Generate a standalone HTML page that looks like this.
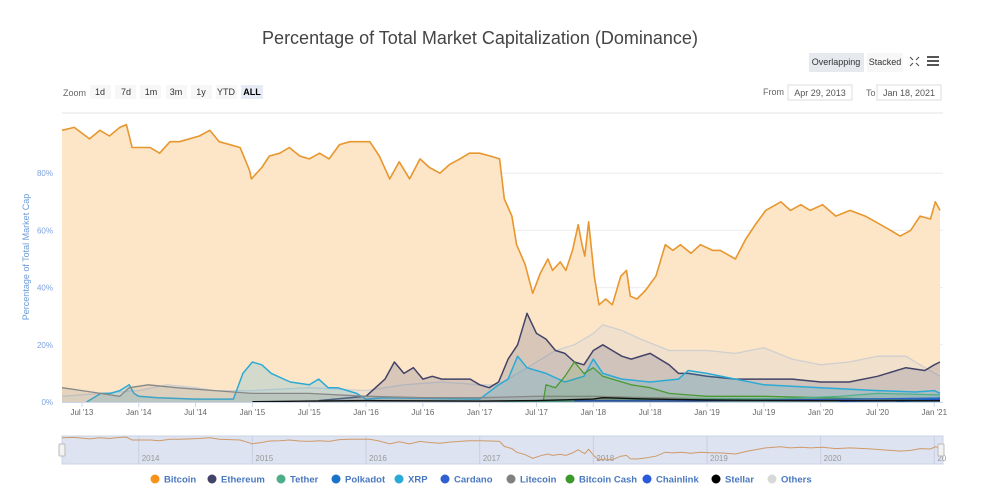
<!DOCTYPE html>
<html><head><meta charset="utf-8"><style>
body{margin:0;background:#fff;width:1000px;height:492px;overflow:hidden;font-family:"Liberation Sans",sans-serif}
svg text{font-family:"Liberation Sans",sans-serif}
</style></head><body>
<svg id="c" width="1000" height="492" viewBox="0 0 1000 492">
<text x="480" y="44" text-anchor="middle" font-size="18" fill="#444">Percentage of Total Market Capitalization (Dominance)</text>
<g>
<text x="63" y="96" font-size="9" fill="#666">Zoom</text>
<rect x="90" y="85" width="21" height="14" fill="#f7f7f7"/><text x="100" y="95" font-size="9" fill="#333" text-anchor="middle">1d</text>
<rect x="115" y="85" width="21" height="14" fill="#f7f7f7"/><text x="126" y="95" font-size="9" fill="#333" text-anchor="middle">7d</text>
<rect x="140" y="85" width="21" height="14" fill="#f7f7f7"/><text x="151" y="95" font-size="9" fill="#333" text-anchor="middle">1m</text>
<rect x="166" y="85" width="21" height="14" fill="#f7f7f7"/><text x="176" y="95" font-size="9" fill="#333" text-anchor="middle">3m</text>
<rect x="191" y="85" width="21" height="14" fill="#f7f7f7"/><text x="201" y="95" font-size="9" fill="#333" text-anchor="middle">1y</text>
<rect x="216" y="85" width="21" height="14" fill="#f7f7f7"/><text x="226" y="95" font-size="9" fill="#333" text-anchor="middle">YTD</text>
<rect x="241" y="85" width="22" height="14" fill="#e6ebf5"/><text x="252" y="95" font-size="9" fill="#000" font-weight="bold" text-anchor="middle">ALL</text>
</g>
<rect x="809" y="53" width="55" height="19" fill="#e6e9ee"/><text x="836" y="65" font-size="9" fill="#333" text-anchor="middle">Overlapping</text>
<rect x="867" y="53" width="36" height="19" fill="#f7f7f7"/><text x="885" y="65" font-size="9" fill="#333" text-anchor="middle">Stacked</text>
<g stroke="#555" stroke-width="1.2" fill="none"><path d="M910 57l3 3M919 57l-3 3M910 66l3-3M919 66l-3-3"/></g>
<g fill="#555"><rect x="927" y="56" width="12" height="2"/><rect x="927" y="60" width="12" height="2"/><rect x="927" y="64" width="12" height="2"/></g>
<text x="784" y="95" font-size="9" fill="#666" text-anchor="end">From</text>
<rect x="788" y="85" width="64" height="15" fill="#fff" stroke="#ddd"/><text x="820" y="96" font-size="9" fill="#555" text-anchor="middle">Apr 29, 2013</text>
<text x="866" y="96" font-size="9" fill="#666">To</text>
<rect x="877" y="85" width="64" height="15" fill="#fff" stroke="#ddd"/><text x="909" y="96" font-size="9" fill="#555" text-anchor="middle">Jan 18, 2021</text>
<text transform="translate(29,257) rotate(-90)" font-size="9" fill="#6a9bd8" text-anchor="middle">Percentage of Total Market Cap</text>
<g id="plot"></g>
</svg>
<script>
// months since Jan 2013
const btcT=[3.9,5.2,6.8,7.9,8.9,10.0,10.7,11.3,12.1,13.2,14.2,15.3,16.3,18.4,19.5,20.5,22.7,23.7,23.9,25.0,25.8,26.9,27.9,29.0,30.0,31.1,32.1,33.2,34.3,36.4,37.4,38.5,39.5,40.6,41.7,42.7,43.8,44.8,45.9,46.9,48.0,49.1,50.1,50.6,51.4,51.9,52.8,53.6,54.4,55.2,55.7,56.5,57.1,57.8,58.4,58.8,59.1,59.5,60.1,60.6,61.3,62.0,62.9,63.5,63.9,64.6,65.5,66.6,67.6,68.4,69.2,70.3,71.3,72.6,73.4,75.0,76.1,77.1,78.2,79.8,80.8,81.9,82.9,84.2,85.6,87.1,88.7,89.8,91.4,92.4,93.5,94.5,95.6,96.1,96.6];
const btcV=[95,96,92,95,93,96,97,89,89,89,87,91,91,93,95,91,89,81,78,82,86,87,89,86,85,87,85,90,91,91,86,78,84,78,85,82,80,83,85,87,87,86,85,71,65,55,48,38,45,50,46,49,46,53,62,55,51,63,44,34,36,34,44,46,37,36,39,44,55,53,55,52,55,53,53,50,57,62,67,70,67,69,67,69,65,67,65,63,60,58,60,65,64,70,67];
const othT=[3.9,8,12,15,18,20,24,30,36,40,44,48,50,52,54,56,58,60,61,63,65,68,70,72,75,78,81,84,87,90,93,95,96.6];
const othV=[2,3,4,6,5,4,4,5,4,6,7,6,6,10,14,18,20,24,27,25,22,18,18,18,17,19,15,13,14,16,16,12,9];
const ethT=[31,36,38,39,40,41,42,43,44,45,46,47,48,49,50,51,52,53,54,55,56,57,58,59,60,61,62,63,64,66,68,69,70,72,75,78,81,84,87,90,93,95,96,96.6];
const ethV=[0.5,2,8,14,10,12,8,9,8,8,8,8,6,5,7,15,20,31,24,22,18,17,14,13,18,20,18,16,15,17,13,10,10,9,8,8,8,7,7,9,12,11,13,14];
const xrpT=[6.5,8,9,10,11,11.5,12,14,18,22,23,24,25,26,28,30,31,32,33,35,36,38,48,50,51,52,53,55,57,59,60,61,63,66,69,70,72,75,78,84,90,94,96,96.6];
const xrpV=[0,3,3,4,6,3,2,1.5,1,1,10,14,13,10,7,6,8,5,5,3,1,1.5,1,6,8,16,12,10,7,9,15,10,8,7,8,11,10,8,6,5,4,3.5,4,3];
const ltcT=[3.9,7,10,11,13,16,20,24,30,36,42,48,54,60,66,72,84,96.6];
const ltcV=[5,3.5,2,5,6,5,4,3,3,2,1.5,1.5,2,2,1.5,1.2,1,1];
const bchT=[54.7,55,56,57,58,59,60,61,62,64,66,68,70,72,78,84,90,96.6];
const bchV=[0,6,5,9,14,10,12,9,8,6,5,3,2.5,2,2,1.5,1,0.8];
const xlmT=[24,30,36,48,54,60,61,66,72,84,96.6];
const xlmV=[0.1,0.3,0.5,0.3,0.5,1,1.5,1,0.7,0.5,0.5];
const usdtT=[50,60,70,80,86,90,96.6];
const usdtV=[0,0.5,1,1.2,2,3,2.5];
const dotT=[92,96.6];const dotV=[0,1.5];
const adaT=[58,70,96.6];const adaV=[0.5,0.4,1.4];
const linkT=[86,96.6];const linkV=[0.2,0.9];
const yTicks=[0,20,40,60,80];
const xTickLabels=["Jul '13","Jan '14","Jul '14","Jan '15","Jul '15","Jan '16","Jul '16","Jan '17","Jul '17","Jan '18","Jul '18","Jan '19","Jul '19","Jan '20","Jul '20","Jan '21"];
const xTickMonths=[6,12,18,24,30,36,42,48,54,60,66,72,78,84,90,96];
const navYears=["2014","2015","2016","2017","2018","2019","2020","20"];
const navMonths=[12,24,36,48,60,72,84,96];
const legendNames=["Bitcoin","Ethereum","Tether","Polkadot","XRP","Cardano","Litecoin","Bitcoin Cash","Chainlink","Stellar","Others"];
const legendColors=["#f7931a","#434368","#4caf8a","#1a73c8","#2caad6","#2f5fd0","#808080","#3c9a2c","#2a5ada","#000","#d8d8d8"];

const NS="http://www.w3.org/2000/svg";
const X0=62,X1=940,Y0=402,YT=116,T0=3.9,T1=96.6;
const xs=t=>X0+(t-T0)/(T1-T0)*(X1-X0);
const ys=v=>Y0-v/100*(Y0-YT);
const plot=document.getElementById('plot');
function mk(tag,attrs,parent){const e=document.createElementNS(NS,tag);for(const k in attrs)e.setAttribute(k,attrs[k]);(parent||plot).appendChild(e);return e;}
mk('line',{x1:X0,x2:943,y1:113,y2:113,stroke:'#e6e6e6'});
yTicks.forEach(v=>{
 const l=mk('line',{x1:X0,x2:943,y1:ys(v),y2:ys(v),stroke:'#ececec'});
 
 
 const t=mk('text',{x:53,y:ys(v)+3,'font-size':8,fill:'#7ea3dc','text-anchor':'end'});t.textContent=v+'%';
 
 
});
function series(T,V,color,fill,fo,name,sw){
 let d='';T.forEach((t,i)=>{d+=(i?'L':'M')+xs(t).toFixed(1)+' '+ys(V[i]).toFixed(1);});
 const a=mk('path',{d:d+'L'+xs(T[T.length-1]).toFixed(1)+' '+Y0+'L'+xs(T[0]).toFixed(1)+' '+Y0+'Z',fill:fill,'fill-opacity':fo,stroke:'none'});
 
 
 const l=mk('path',{d:d,fill:'none',stroke:color,'stroke-width':sw||1.5,'stroke-linejoin':'round'});
 
 
}
series(btcT,btcV,'#e8962e','#fde6c8',1,'bitcoin',1.6);
series(othT,othV,'#cfcfcf','#d8d8d8',0.3,'others',1.3);
series(ethT,ethV,'#434368','#6a6a88',0.25,'ethereum',1.5);
series(xrpT,xrpV,'#2caad6','#2caad6',0.2,'xrp',1.5);
series(ltcT,ltcV,'#888','#888',0.2,'litecoin',1.3);
series(bchT,bchV,'#4a9a34','#4a9a34',0.15,'bitcoin-cash',1.3);
series(usdtT,usdtV,'#4caf8a','#4caf8a',0.2,'tether',1.2);
series(adaT,adaV,'#2f5fd0','#2f5fd0',0.2,'cardano',1.2);
series(linkT,linkV,'#2a5ada','#2a5ada',0.2,'chainlink',1.2);
series(dotT,dotV,'#1a73c8','#1a73c8',0.2,'polkadot',1.2);
series(xlmT,xlmV,'#111','#111',0.2,'stellar',1.4);
mk('line',{x1:X0,x2:943,y1:Y0+0.5,y2:Y0+0.5,stroke:'#ccd6eb'});
xTickMonths.forEach((m,i)=>{
 mk('line',{x1:xs(m),x2:xs(m),y1:Y0,y2:Y0+5,stroke:'#ccd6eb'});
 const t=mk('text',{x:xs(m),y:415,'font-size':8,fill:'#666','text-anchor':'middle'});t.textContent=xTickLabels[i];
 
 
});
// navigator
const nav=mk('g',{});


mk('rect',{x:62,y:436,width:881,height:28,fill:'#dde3f0',stroke:'#cbd3e6'},nav);
navMonths.forEach((m,i)=>{
 mk('line',{x1:xs(m),x2:xs(m),y1:436,y2:464,stroke:'#c8d0e2'},nav);
 const t=mk('text',{x:xs(m)+3,y:461,'font-size':8,fill:'#999'},nav);t.textContent=navYears[i];
});
let nd='';btcT.forEach((t,i)=>{nd+=(i?'L':'M')+xs(t).toFixed(1)+' '+(436+(100-btcV[i])*0.36).toFixed(1);});
mk('path',{d:nd,fill:'none',stroke:'#d09a6a','stroke-width':1},nav);
mk('rect',{x:59,y:444,width:6,height:12,fill:'#f2f2f2',stroke:'#bbb',rx:1},nav);
mk('rect',{x:938,y:444,width:6,height:12,fill:'#f2f2f2',stroke:'#bbb',rx:1},nav);
// legend
const legX=[155,212,281,336,399,445,511,570,647,716,772];
legendNames.forEach((n,i)=>{
 const g=mk('g',{});
 
 
 mk('circle',{cx:legX[i],cy:479,r:4.5,fill:legendColors[i]},g);
 const t=mk('text',{x:legX[i]+9,y:482.5,'font-size':9.5,fill:'#4a78c0','font-weight':'bold'},g);t.textContent=n;
});
</script>
</body></html>
